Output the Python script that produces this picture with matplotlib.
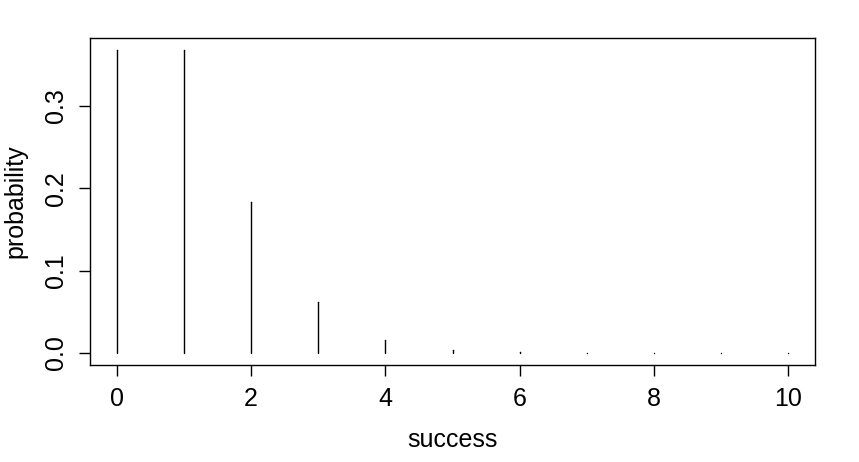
import matplotlib
matplotlib.use("Agg")
import matplotlib.pyplot as plt

# number of successes and probability of each
success = [0, 1, 2, 3, 4, 5, 6, 7, 8, 9, 10]
probability = [0.3679, 0.3679, 0.1839, 0.0613, 0.0153, 0.0031,
               0.0005, 0.0001, 0.00001, 0.000001, 0.0000001]

x_ticks = [0, 2, 4, 6, 8, 10]
y_ticks = [0.0, 0.1, 0.2, 0.3]

plt.rcParams["font.family"] = ["Liberation Sans", "DejaVu Sans"]

fig = plt.figure(figsize=(8.59, 4.62), dpi=100)
ax = fig.add_axes([0.1048, 0.2100, 0.8440, 0.7077])

stems = ax.vlines(success, 0, probability, colors="black", linewidth=1.0)
stems.set_capstyle("round")
# R draws a tiny dot for the near-zero stems
ax.plot(success, probability, linestyle="none", marker="o",
        markersize=1.0, color="black", markeredgewidth=0)

ax.set_xlim(-0.4, 10.4)
ax.set_ylim(-0.0147, 0.3826)
ax.set_xticks(x_ticks)
ax.set_xticklabels([str(t) for t in x_ticks])
ax.set_yticks(y_ticks)
ax.set_yticklabels([f"{t:.1f}" for t in y_ticks], rotation=90, va="center")

ax.tick_params(axis="both", direction="out", length=8, width=1,
               labelsize=18, pad=8)
for s in ax.spines.values():
    s.set_linewidth(1)

ax.set_xlabel("success", fontsize=18, labelpad=12)
ax.set_ylabel("probability", fontsize=18, labelpad=12)

fig.savefig("out.png", dpi=100)
